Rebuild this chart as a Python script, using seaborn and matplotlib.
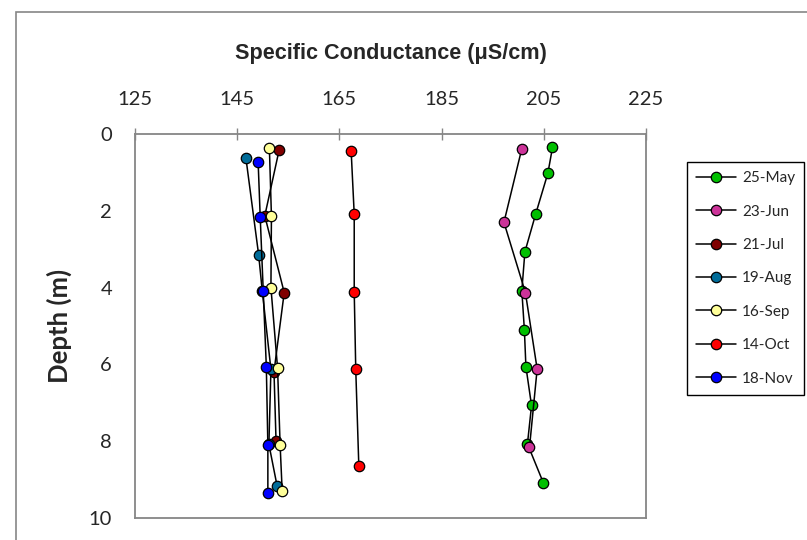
import matplotlib
matplotlib.use("Agg")
import matplotlib.pyplot as plt
import seaborn as sns
from matplotlib.patches import Rectangle

# profiles: depth (m) and specific conductance (uS/cm)
may_depth = [0.35, 1.02, 2.09, 3.07, 4.08, 5.10, 6.06, 7.07, 8.07, 9.08]
may_cond = [206.7, 205.8, 203.4, 201.3, 200.7, 201.2, 201.5, 202.6, 201.8, 204.9]

jun_depth = [0.38, 2.30, 4.13, 6.12, 8.16]
jun_cond = [200.7, 197.2, 201.4, 203.7, 202.2]

jul_depth = [0.42, 2.13, 4.13, 6.19, 7.99]
jul_cond = [153.2, 150.4, 154.2, 152.2, 152.6]

aug_depth = [0.62, 3.15, 4.08, 6.13, 8.08, 9.16]
aug_cond = [146.7, 149.2, 149.9, 151.6, 151.2, 152.8]

sep_depth = [0.37, 2.14, 4.00, 6.10, 8.10, 9.29]
sep_cond = [151.3, 151.7, 151.6, 152.9, 153.4, 153.8]

oct_depth = [0.44, 2.09, 4.11, 6.13, 8.64]
oct_cond = [167.3, 167.9, 167.9, 168.2, 168.8]

nov_depth = [0.74, 2.15, 4.10, 6.06, 8.10, 9.36]
nov_cond = [149.1, 149.5, 150.1, 150.7, 151.0, 151.0]

labels = ["25-May", "23-Jun", "21-Jul", "19-Aug", "16-Sep", "14-Oct", "18-Nov"]
colors = ["#00C000", "#CC3399", "#800000", "#006C99", "#FFFF99", "#FF0000", "#0000FF"]

sns.set_style("white")
plt.rcParams["font.family"] = ["Lato", "DejaVu Sans"]

fig = plt.figure(figsize=(8.07, 5.40), dpi=100)
ax = fig.add_axes([135 / 807, 1 - 518 / 540, 511 / 807, 384 / 540])

series = [(may_cond, may_depth), (jun_cond, jun_depth), (jul_cond, jul_depth),
          (aug_cond, aug_depth), (sep_cond, sep_depth), (oct_cond, oct_depth),
          (nov_cond, nov_depth)]

for (cond, depth), lab, col in zip(series, labels, colors):
    sns.lineplot(x=cond, y=depth, sort=False, estimator=None, orient="y",
                 color="black", linewidth=1.1, marker="o", markersize=7.5,
                 markerfacecolor=col, markeredgecolor="black",
                 markeredgewidth=0.9, label=lab, ax=ax)

ax.set_xlim(125, 225)
ax.set_ylim(10, 0)
ax.set_xticks([125, 145, 165, 185, 205, 225])
ax.set_yticks([0, 2, 4, 6, 8, 10])
ax.xaxis.tick_top()
ax.xaxis.set_label_position("top")
ax.tick_params(axis="both", direction="inout", length=9, width=1,
               color="#868686", labelsize=14.5)
ax.tick_params(axis="x", pad=14)
ax.tick_params(axis="y", pad=12)
for sp in ax.spines.values():
    sp.set_color("#868686")
    sp.set_linewidth(1.3)

ax.set_xlabel("Specific Conductance (μS/cm)", fontsize=15.6, fontweight="bold",
              family=["Liberation Sans Narrow", "Liberation Sans"], labelpad=23)
ax.set_ylabel("Depth (m)", fontsize=18.5, fontweight="bold", labelpad=12)

ax.legend(loc="upper left", bbox_to_anchor=(687 / 807, 1 - 162 / 540),
          bbox_transform=fig.transFigure, fontsize=11, frameon=True,
          fancybox=False, edgecolor="black", framealpha=1,
          handlelength=2.6, handletextpad=0.4, labelspacing=1.27,
          borderpad=0.6, borderaxespad=0)
ax.get_legend().get_frame().set_linewidth(1.0)

fig.patches.append(Rectangle((16 / 807, -0.1), 1.2, 1 - 12 / 540 + 0.1,
                             transform=fig.transFigure, fill=False,
                             edgecolor="#868686", linewidth=1.2))

fig.savefig("out.png", dpi=100)
